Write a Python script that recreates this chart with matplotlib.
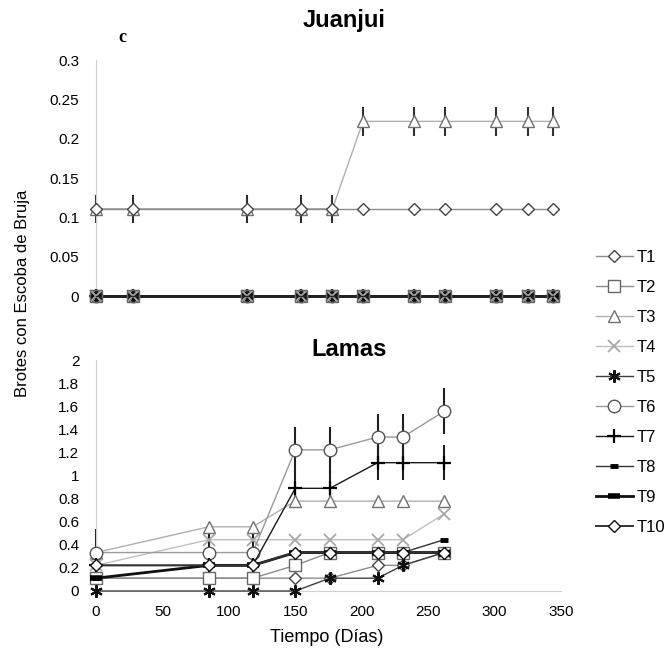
import matplotlib
matplotlib.use('Agg')
import matplotlib.pyplot as plt
from matplotlib.ticker import FuncFormatter

plt.rcParams['font.family'] = ['Liberation Sans', 'DejaVu Sans']

# Juanjui (top panel)
dias_juanjui = [0, 28, 114, 154, 178, 201, 239, 263, 301, 325, 344]
juanjui_T1 = [0.111, 0.111, 0.111, 0.111, 0.111, 0.111, 0.111, 0.111, 0.111, 0.111, 0.111]
juanjui_T3 = [0.111, 0.111, 0.111, 0.111, 0.111, 0.222, 0.222, 0.222, 0.222, 0.222, 0.222]
juanjui_cero = [0, 0, 0, 0, 0, 0, 0, 0, 0, 0, 0]
juanjui_T3_err = [0.018, 0.018, 0.018, 0.018, 0.018, 0.018, 0.018, 0.018, 0.018, 0.018, 0.018]

# Lamas (bottom panel)
dias_lamas = [0, 85, 118, 150, 176, 212, 231, 262]
lamas_T1 = [0.111, 0.111, 0.111, 0.111, 0.111, 0.222, 0.222, 0.333]
lamas_T2 = [0.111, 0.111, 0.111, 0.222, 0.333, 0.333, 0.333, 0.333]
lamas_T3 = [0.333, 0.556, 0.556, 0.778, 0.778, 0.778, 0.778, 0.778]
lamas_T4 = [0.222, 0.444, 0.444, 0.444, 0.444, 0.444, 0.444, 0.667]
lamas_T5 = [0, 0, 0, 0, 0.111, 0.111, 0.222, 0.333]
lamas_T6 = [0.333, 0.333, 0.333, 1.222, 1.222, 1.333, 1.333, 1.556]
lamas_T7 = [0.222, 0.222, 0.222, 0.889, 0.889, 1.111, 1.111, 1.111]
lamas_T8 = [0.111, 0.222, 0.222, 0.333, 0.333, 0.333, 0.333, 0.444]
lamas_T9 = [0.111, 0.222, 0.222, 0.333, 0.333, 0.333, 0.333, 0.333]
lamas_T10 = [0.222, 0.222, 0.222, 0.333, 0.333, 0.333, 0.333, 0.333]
lamas_T4_err = [0, 0.1, 0.1, 0, 0, 0, 0, 0]
lamas_T6_err = [0.2, 0, 0, 0.2, 0.2, 0.2, 0.2, 0.2]
lamas_T7_err = [0, 0, 0, 0.15, 0.15, 0.15, 0.15, 0.15]

nombres = ['T1', 'T2', 'T3', 'T4', 'T5', 'T6', 'T7', 'T8', 'T9', 'T10']

# line colour, marker, marker edge colour, marker size, line width, marker edge width
estilos = {
    'T1': ('#8c8c8c', 'D', '#444444', 6.5, 1.0, 1.0),
    'T2': ('#8c8c8c', 's', '#666666', 8.5, 1.0, 1.0),
    'T3': ('#b0b0b0', '^', '#707070', 8.5, 1.0, 1.0),
    'T4': ('#c0c0c0', 'x', '#a8a8a8', 8, 1.0, 1.3),
    'T5': ('#404040', (6, 2, 0), '#111111', 9, 1.0, 1.5),
    'T6': ('#9a9a9a', 'o', '#555555', 9, 1.0, 1.0),
    'T7': ('#1a1a1a', '+', '#000000', 10, 1.0, 1.6),
    'T8': ('#333333', '_', '#000000', 6, 1.0, 3.5),
    'T9': ('#111111', '_', '#000000', 9, 2.0, 4.0),
    'T10': ('#333333', 'D', '#111111', 6.5, 1.4, 1.0),
}

fig = plt.figure(figsize=(6.64, 6.49), dpi=100)
W, H = 664, 649
ax1 = fig.add_axes([96 / W, 1 - 296 / H, 465 / W, 236 / H])
ax2 = fig.add_axes([96 / W, 1 - 591 / H, 465 / W, 231 / H])

fmt = FuncFormatter(lambda v, p: '{:g}'.format(round(v, 3)))

# top panel
ax1.errorbar(dias_juanjui, juanjui_T3, yerr=juanjui_T3_err, fmt='none',
             ecolor='#303030', elinewidth=1.5, capsize=0, zorder=1, clip_on=False)
for n in nombres[::-1]:
    if n == 'T1':
        vals = juanjui_T1
    elif n == 'T3':
        vals = juanjui_T3
    else:
        vals = juanjui_cero
    c, m, mec, ms, lw, mew = estilos[n]
    if vals is juanjui_cero:
        c = '#222222'
        mfc = 'none'
    else:
        mfc = 'white'
    z = 4 if n == 'T1' else 3
    ax1.plot(dias_juanjui, vals, color=c, marker=m, mec=mec, mfc=mfc, ms=ms,
             lw=lw, mew=mew, zorder=z, clip_on=False)

# bottom panel
lamas = [lamas_T1, lamas_T2, lamas_T3, lamas_T4, lamas_T5,
         lamas_T6, lamas_T7, lamas_T8, lamas_T9, lamas_T10]
for vals, err in [(lamas_T4, lamas_T4_err), (lamas_T6, lamas_T6_err), (lamas_T7, lamas_T7_err)]:
    ax2.errorbar(dias_lamas, vals, yerr=err, fmt='none', ecolor='#202020',
                 elinewidth=1.5, capsize=0, zorder=1, clip_on=False)
handles = []
for n, vals in zip(nombres, lamas):
    c, m, mec, ms, lw, mew = estilos[n]
    ln, = ax2.plot(dias_lamas, vals, color=c, marker=m, mec=mec, mfc='white', ms=ms,
                   lw=lw, mew=mew, zorder=3, clip_on=False, label=n)
    handles.append(ln)

for ax in (ax1, ax2):
    ax.set_xlim(0, 350)
    ax.yaxis.set_major_formatter(fmt)
    for s in ('top', 'right'):
        ax.spines[s].set_visible(False)
    ax.spines['left'].set_color('#d0d0d0')
    ax.spines['bottom'].set_color('#d0d0d0')
    ax.tick_params(length=0, labelsize=11, pad=12)

ax1.set_ylim(0, 0.3)
ax1.set_yticks([0, 0.05, 0.1, 0.15, 0.2, 0.25, 0.3])
ax1.spines['bottom'].set_visible(False)
ax1.set_xticks([])

ax2.set_ylim(0, 2)
ax2.set_yticks([0, 0.2, 0.4, 0.6, 0.8, 1, 1.2, 1.4, 1.6, 1.8, 2])
ax2.set_xticks([0, 50, 100, 150, 200, 250, 300, 350])
ax2.tick_params(axis='x', pad=10)

fig.text(344 / W, 1 - 20 / H, 'Juanjui', fontsize=17, fontweight='bold', ha='center', va='center')
fig.text(349 / W, 1 - 349 / H, 'Lamas', fontsize=17, fontweight='bold', ha='center', va='center')
fig.text(122 / W, 1 - 38 / H, 'c', fontsize=13, fontweight='bold', family='Liberation Serif',
         ha='center', va='center')
fig.text(23 / W, 1 - 293 / H, 'Brotes con Escoba de Bruja', fontsize=12, rotation=90,
         ha='center', va='center')
fig.text(327 / W, 1 - 637 / H, 'Tiempo (Días)', fontsize=13, ha='center', va='center')

fig.legend(handles=handles, loc='upper left', bbox_to_anchor=(596 / W, 1 - 250 / H),
           frameon=False, fontsize=12, handlelength=2.2, handletextpad=0.25,
           labelspacing=0.9, borderpad=0, borderaxespad=0)

fig.savefig('out.png', dpi=100)
